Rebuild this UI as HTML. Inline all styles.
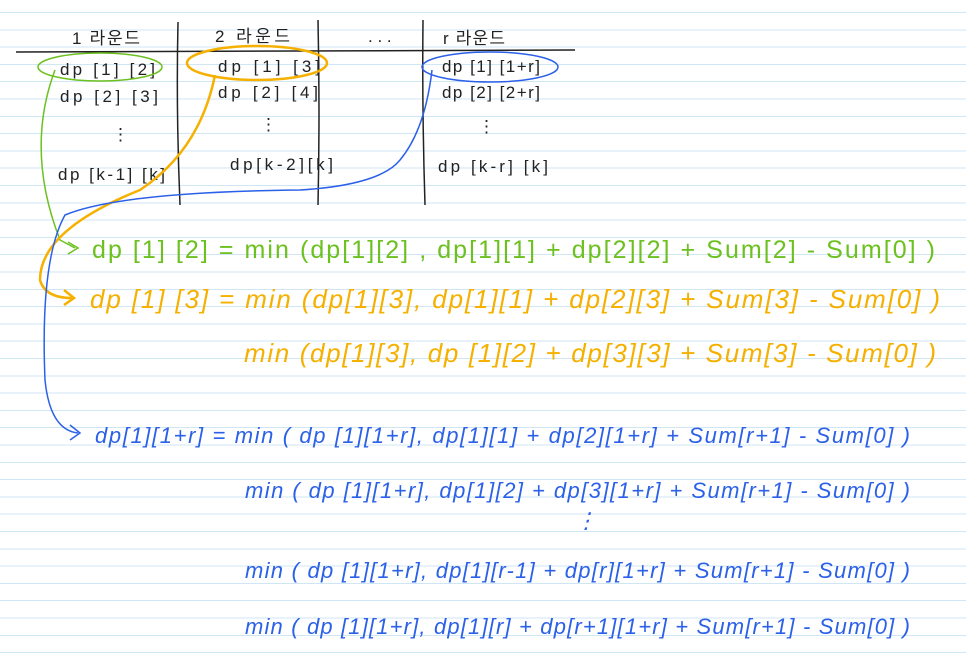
<!DOCTYPE html>
<html><head><meta charset="utf-8"><style>
html,body{margin:0;padding:0;}
body{width:966px;height:664px;overflow:hidden;background:#fff;
background-image:repeating-linear-gradient(to bottom,transparent 0,transparent 12px,#cfe6f5 12px,#cfe6f5 13px,transparent 13px,transparent 17.3px);}
svg{position:absolute;left:0;top:0}
text{font-family:"Liberation Sans","Noto Sans CJK KR",sans-serif;}
</style></head><body>
<svg width="966" height="664" viewBox="0 0 966 664">
<g stroke="#222" stroke-width="1.5" fill="none">
<line x1="16" y1="52" x2="575" y2="50"/>
<path d="M178 22 Q176 110 180 205"/>
<path d="M318 20 Q320 110 318 205"/>
<path d="M423 20 Q422 110 425 205"/>
</g>
<g fill="#222" font-size="17" lengthAdjust="spacing">
<text x="72" y="44" textLength="68" font-family="Noto Sans CJK KR">1 라운드</text>
<text x="215" y="42" textLength="75" font-family="Noto Sans CJK KR">2 라운드</text>
<text x="368" y="42">. . .</text>
<text x="443" y="44" textLength="62" font-family="Noto Sans CJK KR">r 라운드</text>
<text x="60" y="75" textLength="95">dp [1] [2]</text>
<text x="60" y="102" textLength="98">dp [2] [3]</text>
<text x="112" y="140">⋮</text>
<text x="58" y="180" textLength="107">dp [k-1] [k]</text>
<text x="218" y="72" textLength="102">dp [1] [3]</text>
<text x="218" y="98" textLength="100">dp [2] [4]</text>
<text x="260" y="130">⋮</text>
<text x="230" y="170" textLength="103">dp[k-2][k]</text>
<text x="442" y="72" textLength="98">dp [1] [1+r]</text>
<text x="442" y="98" textLength="98">dp [2] [2+r]</text>
<text x="478" y="132">⋮</text>
<text x="438" y="172" textLength="110">dp [k-r] [k]</text>
</g>
<ellipse cx="100" cy="67" rx="62" ry="14" fill="none" stroke="#6cc01f" stroke-width="1.5"/>
<path d="M55 70 Q25 150 60 240 L75 248" fill="none" stroke="#6cc01f" stroke-width="1.5"/>
<path d="M68 242 L78 248 L68 254" fill="none" stroke="#6cc01f" stroke-width="1.5"/>
<ellipse cx="257" cy="63" rx="70" ry="17" fill="none" stroke="#f5b000" stroke-width="2.5"/>
<path d="M215 75 Q200 150 140 190 Q40 230 40 280 Q45 298 72 298" fill="none" stroke="#f5b000" stroke-width="2.5"/>
<path d="M64 290 L74 298 L64 305" fill="none" stroke="#f5b000" stroke-width="2.5"/>
<ellipse cx="490" cy="67" rx="68" ry="15" fill="none" stroke="#2b60e8" stroke-width="1.5"/>
<path d="M432 70 Q425 130 400 160 Q380 185 300 190 Q120 192 65 215 Q40 260 45 380 Q50 430 78 433" fill="none" stroke="#2b60e8" stroke-width="1.5"/>
<path d="M70 425 L80 433 L70 440" fill="none" stroke="#2b60e8" stroke-width="1.5"/>
<g font-size="25" fill="#6cc01f" lengthAdjust="spacing"><text x="92" y="258" textLength="843">dp [1] [2] = min (dp[1][2] , dp[1][1] + dp[2][2] + Sum[2] - Sum[0] )</text></g>
<g font-size="26" fill="#f5b000" font-style="italic" lengthAdjust="spacing"><text x="90" y="308" textLength="850">dp [1] [3] = min (dp[1][3], dp[1][1] + dp[2][3] + Sum[3] - Sum[0] )</text>
<text x="244" y="362" textLength="692">min (dp[1][3], dp [1][2] + dp[3][3] + Sum[3] - Sum[0] )</text></g>
<g font-size="22" fill="#2b60e8" font-style="italic" lengthAdjust="spacing">
<text x="95" y="443" textLength="815">dp[1][1+r] = min ( dp [1][1+r], dp[1][1] + dp[2][1+r] + Sum[r+1] - Sum[0] )</text>
<text x="245" y="498" textLength="665">min ( dp [1][1+r], dp[1][2] + dp[3][1+r] + Sum[r+1] - Sum[0] )</text>
<text x="575" y="528">⋮</text>
<text x="245" y="578" textLength="665">min ( dp [1][1+r], dp[1][r-1] + dp[r][1+r] + Sum[r+1] - Sum[0] )</text>
<text x="245" y="634" textLength="665">min ( dp [1][1+r], dp[1][r] + dp[r+1][1+r] + Sum[r+1] - Sum[0] )</text>
</g>
</svg>
</body></html>
